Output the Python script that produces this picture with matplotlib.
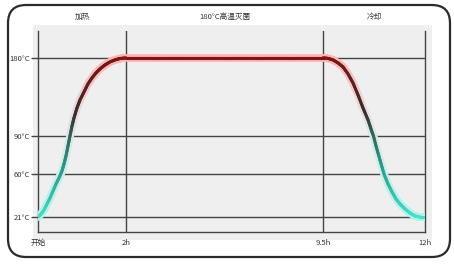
import numpy as np
import matplotlib
matplotlib.use("Agg")
import matplotlib.pyplot as plt
from matplotlib.collections import LineCollection
from matplotlib.colors import LinearSegmentedColormap
from matplotlib.patches import FancyBboxPatch, Rectangle

plt.rcParams['font.family'] = ['Noto Sans CJK SC', 'DejaVu Sans']

# phases and ticks
phase_bounds = [0, 2, 9.5, 12]
phase_labels = ['加热', '180°C高温灭菌', '冷却']
x_ticks = [0, 2, 9.5, 12]
x_labels = ['开始', '2h', '9.5h', '12h']
y_ticks = [21, 60, 90, 180]
y_labels = ['21°C', '60°C', '90°C', '180°C']

# temperature profile (hours, °C)
heat_h = [0, 0.068, 0.136, 0.205, 0.273, 0.341, 0.409, 0.477, 0.545, 0.591, 0.636,
          0.682, 0.727, 0.773, 0.818, 0.886, 0.955, 1.045, 1.136, 1.227, 1.318,
          1.409, 1.523, 1.636, 1.75, 1.864, 2.0]
heat_t = [21, 23.7, 27.3, 32.8, 38.2, 44.6, 50.9, 56.4, 62.4, 67.9, 74.2,
          82.1, 90, 101.5, 110.8, 122.3, 131.5, 140.7, 150, 156.9, 162.7,
          167.3, 171.9, 175.4, 177.7, 179.3, 180]
cool_h = [9.5, 9.623, 9.745, 9.868, 9.99, 10.113, 10.235, 10.358, 10.48, 10.603,
          10.701, 10.799, 10.897, 10.995, 11.093, 11.191, 11.289, 11.387, 11.51,
          11.632, 11.755, 11.877, 12.0]
cool_t = [180, 179.4, 177.7, 174.2, 169.6, 161.5, 151.1, 137.3, 122.3, 108.5,
          94.6, 82.1, 71, 60, 50.9, 43.7, 37.3, 32.8, 28.3, 24.6, 21.9, 21, 21]

# stylised (non-linear) axes, as in the picture
xk_h = [-12, 0, 2, 9.5, 12, 24]
xk_p = [-528, 0, 88, 285, 387, 877]
yk_t = [-100, 21, 60, 90, 180, 400]
yk_p = [-133.5, 0, 43, 81, 159, 349.7]

def xf(v): return np.interp(v, xk_h, xk_p)
def xi(v): return np.interp(v, xk_p, xk_h)
def yf(v): return np.interp(v, yk_t, yk_p)
def yi(v): return np.interp(v, yk_p, yk_t)

W, H = 454, 264
fig = plt.figure(figsize=(W / 100, H / 100), dpi=100)
fig.patch.set_facecolor('white')

# grey plot background
bg = Rectangle((33 / W, 1 - 240 / H), 399 / W, 215 / H,
               transform=fig.transFigure, fc='#efefef', ec='none', zorder=-5)
fig.patches.append(bg)
# rounded outer frame
frame = FancyBboxPatch((8 / W, 7 / H), 442 / W, 252 / H,
                       boxstyle='round,pad=0,rounding_size=0.04',
                       transform=fig.transFigure, fill=False,
                       ec='#2b2b2b', lw=1.6, mutation_aspect=W / H, zorder=5)
fig.patches.append(frame)

ax = fig.add_axes([38 / W, 1 - 232 / H, 387 / W, 201 / H])
ax.set_facecolor('none')
ax.set_xscale('function', functions=(xf, xi))
ax.set_yscale('function', functions=(yf, yi))
ax.set_xlim(0, 12)
ax.set_ylim(7.4, 211)

ax.spines['top'].set_visible(False)
for s in ['left', 'right', 'bottom']:
    ax.spines[s].set_color('#444444')
    ax.spines[s].set_linewidth(1.0)

ax.set_xticks(x_ticks)
ax.set_xticklabels(x_labels)
ax.set_yticks(y_ticks)
ax.set_yticklabels(y_labels)
ax.xaxis.set_minor_locator(matplotlib.ticker.NullLocator())
ax.yaxis.set_minor_locator(matplotlib.ticker.NullLocator())
ax.tick_params(axis='x', length=0, pad=5, labelsize=5.5, labelcolor='#333333')
ax.tick_params(axis='y', length=5, width=1.0, color='#444444', pad=1,
               labelsize=5.5, labelcolor='#333333')

for t in y_ticks:
    ax.axhline(t, color='#444444', lw=1.0, zorder=1)
for b in phase_bounds[1:-1]:
    ax.axvline(b, color='#444444', lw=1.0, zorder=1)

for i, lab in enumerate(phase_labels):
    mid = (phase_bounds[i] + phase_bounds[i + 1]) / 2
    ax.text(mid, 1.07, lab, transform=ax.get_xaxis_transform(), ha='center',
            va='center', fontsize=5.5, color='#333333')

# gradient-coloured curve
cmap = LinearSegmentedColormap.from_list('heat', [(0, '#40e2c8'), (0.3, '#289484'),
                                                  (0.6, '#3a2c2c'), (1.0, '#7d1515')])
glow = LinearSegmentedColormap.from_list('glow', [(0, '#b0f4ea'), (0.35, '#d6ece8'),
                                                  (0.6, '#e6e0e0'), (1.0, '#ffb2b2')])
h = np.array(heat_h + cool_h)
t = np.array(heat_t + cool_t)
# split polyline into short pieces so the colour can follow temperature
fine_h = []
fine_t = []
for k in range(len(h) - 1):
    fine_h.extend(np.linspace(h[k], h[k + 1], 6, endpoint=False))
    fine_t.extend(np.linspace(t[k], t[k + 1], 6, endpoint=False))
fine_h.append(h[-1])
fine_t.append(t[-1])
pts = np.column_stack([fine_h, fine_t]).reshape(-1, 1, 2)
segs = np.concatenate([pts[:-1], pts[1:]], axis=1)
tm = (np.asarray(fine_t[:-1]) + np.asarray(fine_t[1:])) / 2
norm = (tm - 21) / (180 - 21)

lc_glow = LineCollection(segs, colors=glow(norm), linewidths=5.5,
                         capstyle='round', zorder=3)
ax.add_collection(lc_glow)
lc = LineCollection(segs, colors=cmap(norm), linewidths=2.2, capstyle='round', zorder=4)
ax.add_collection(lc)

fig.savefig('out.png', dpi=100)
